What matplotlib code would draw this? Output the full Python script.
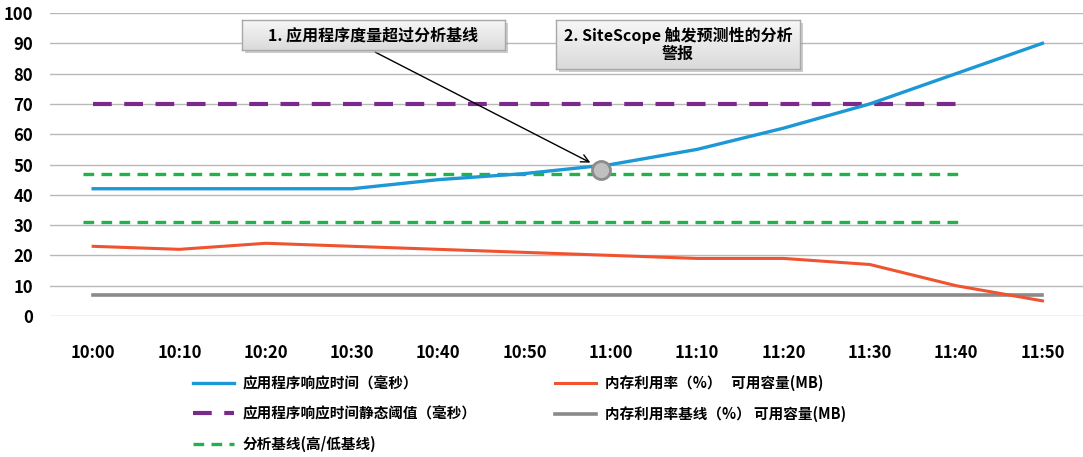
import numpy as np
import matplotlib
matplotlib.use("Agg")
import matplotlib.pyplot as plt
from matplotlib.lines import Line2D
from matplotlib.patches import Rectangle

plt.rcParams['font.family'] = ['Noto Sans CJK SC', 'DejaVu Sans']

# data
times = ["10:00", "10:10", "10:20", "10:30", "10:40", "10:50",
         "11:00", "11:10", "11:20", "11:30", "11:40", "11:50"]
resp_ms = [42, 42, 42, 42, 45, 47, 50, 55, 62, 70, 80, 90]
mem_pct = [23, 22, 24, 23, 22, 21, 20, 19, 19, 17, 10, 5]
mem_base = [7] * 12
static_thr = [70] * 11          # 10:00 .. 11:40
base_high = [47] * 11
base_low = [31] * 11
alert_pt = (5.89, 48.2)         # marked point near 11:00

labels = ["应用程序响应时间（毫秒）", "应用程序响应时间静态阈值（毫秒）", "分析基线(高/低基线)",
          "内存利用率（%）   可用容量(MB)", "内存利用率基线（%） 可用容量(MB)"]
C_BLUE, C_PURPLE, C_GREEN = "#1b98d5", "#7a2a8a", "#21b24b"
C_RED, C_GRAY = "#ef5330", "#8a8a8a"

W, H = 1083, 457
fig = plt.figure(figsize=(W / 100, H / 100), dpi=100)
ax = fig.add_axes([50 / W, (H - 316) / H, 1 - 50 / W, (316 - 13) / H])

x = np.arange(len(times))
xs = np.arange(len(static_thr))
xg = np.linspace(-0.12, 10.05, len(base_high))   # green baselines run a bit wider
ax.plot(xs, static_thr, color=C_PURPLE, lw=3.0, dashes=(4.5, 3), zorder=3)
ax.plot(xg, base_high, color=C_GREEN, lw=2.4, dashes=(3.2, 2.2), zorder=3)
ax.plot(xg, base_low, color=C_GREEN, lw=2.4, dashes=(3.2, 2.2), zorder=3)
ax.plot(x, mem_base, color=C_GRAY, lw=2.6, zorder=3)
ax.plot(x, mem_pct, color=C_RED, lw=2.2, zorder=4)
ax.plot(x, resp_ms, color=C_BLUE, lw=2.4, zorder=4)
ax.plot(*alert_pt, marker="o", ms=13, mfc="#c0c0c0", mec="#8c8c8c", mew=2, zorder=5)

ax.annotate("", xy=(5.79, 50.2), xytext=(3.24, 87.5),
            arrowprops=dict(arrowstyle="->", color="black", lw=1.0, mutation_scale=14), zorder=6)

ax.set_xlim(-0.5, 11.47)
ax.set_ylim(0, 100)
ax.set_yticks(range(0, 101, 10))
ax.set_xticks(x)
ax.set_xticklabels(times)
ax.yaxis.grid(True, color="#b8b8b8", lw=1.0)
ax.set_axisbelow(True)
for s in ax.spines.values():
    s.set_visible(False)
ax.tick_params(axis="both", length=0, labelsize=12)
ax.tick_params(axis="x", pad=20)
ax.tick_params(axis="y", pad=12)
for t in ax.get_xticklabels() + ax.get_yticklabels():
    t.set_fontweight("bold")


def callout(x0, y0, x1, y1, text):
    # shadow
    fig.add_artist(Rectangle(((x0 + 3) / W, (H - y1 - 3) / H), (x1 - x0) / W, (y1 - y0) / H,
                             transform=fig.transFigure, facecolor="#9a9a9a", alpha=0.5,
                             edgecolor="none", zorder=7))
    bx = fig.add_axes([x0 / W, (H - y1) / H, (x1 - x0) / W, (y1 - y0) / H], zorder=8)
    grad = np.linspace(0, 1, 64).reshape(-1, 1)
    bx.imshow(grad, aspect="auto", cmap=matplotlib.colors.LinearSegmentedColormap.from_list(
        "g", ["#f7f7f7", "#dadada"]), extent=(0, 1, 0, 1), origin="upper")
    bx.set_xticks([]); bx.set_yticks([])
    for s in bx.spines.values():
        s.set_color("#a8a8a8"); s.set_linewidth(1.0)
    bx.text(0.5, 0.5, text, ha="center", va="center", fontsize=11.5, fontweight="bold",
            linespacing=1.1, transform=bx.transAxes)


callout(242, 20, 505, 50, "1. 应用程序度量超过分析基线")
callout(556, 20, 800, 69, "2. SiteScope 触发预测性的分析\n警报")

handles = [Line2D([], [], color=C_BLUE, lw=2.4),
           Line2D([], [], color=C_PURPLE, lw=3.0, dashes=(4.5, 3)),
           Line2D([], [], color=C_GREEN, lw=2.4, dashes=(3.2, 2.2)),
           Line2D([], [], color=C_RED, lw=2.2),
           Line2D([], [], color=C_GRAY, lw=2.6)]
leg = fig.legend(handles, labels, ncol=2, loc="upper left", bbox_to_anchor=(180 / W, 1 - 362 / H),
                 frameon=False, handlelength=2.8, handletextpad=0.6, columnspacing=5.4,
                 labelspacing=0.98, prop=dict(size=10.5, weight="bold"))

fig.savefig("out.png", dpi=100)
